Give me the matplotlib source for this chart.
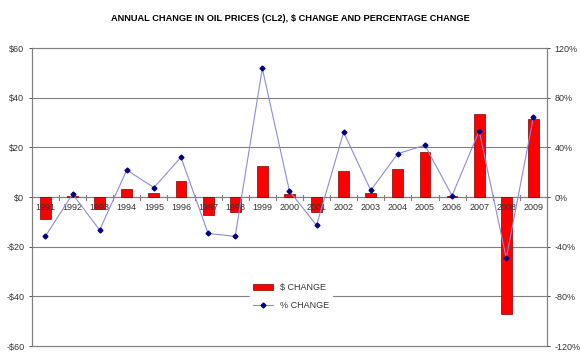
import numpy as np
import matplotlib.pyplot as plt

years = [str(y) for y in range(1991, 2010)]
dollar_change = [-8.7, 0.6, -5.0, 3.1, 1.5, 6.3, -7.4, -6.0, 12.6, 1.3,
                 -6.0, 10.4, 1.8, 11.4, 18.3, 0.5, 33.3, -47.3, 31.3]
pct_change = [-31.5, 2.4, -26.6, 21.8, 7.6, 32.0, -29.3, -31.7, 103.6, 4.9,
              -22.8, 52.2, 5.4, 35.0, 41.7, 1.1, 53.3, -49.2, 64.3]

plt.rcParams['font.family'] = 'Liberation Sans'
fig = plt.figure(figsize=(5.8, 3.56), dpi=100)
ax = fig.add_axes([0.055, 0.028, 0.888, 0.837])
ax2 = ax.twinx()

x = np.arange(len(years))

# gridlines
for v in [-40, -20, 20, 40]:
    ax.axhline(v, color='#808080', lw=0.8, zorder=0)
ax.axhline(0, color='#808080', lw=0.9, zorder=1)

bars = ax.bar(x, dollar_change, width=0.4, color='#ff0000', edgecolor='#800000',
              lw=0.5, zorder=2, label='$ CHANGE')

ax.set_xlim(-0.5, len(years) - 0.5)
ax.set_ylim(-60, 60)
ax.set_yticks(range(-60, 61, 20))
ax.set_yticklabels([f'${v}' if v >= 0 else f'-${-v}' for v in range(-60, 61, 20)])
ax.set_xticks([])
for i, yr in enumerate(years):
    ax.text(i, -2.2, yr, ha='center', va='top', fontsize=6.5, color='#333333', zorder=3)
for i in range(1, len(years)):
    ax.plot([i - 0.5, i - 0.5], [-1.0, 1.0], color='#808080', lw=0.8, zorder=1)

line, = ax2.plot(x, pct_change, color='#8c8cd9', lw=0.8, marker='D', ms=2.5,
                 mfc='#000080', mec='#000080', zorder=4, label='% CHANGE')
ax2.set_ylim(-120, 120)
ax2.set_yticks(range(-120, 121, 40))
ax2.set_yticklabels([f'{v}%' for v in range(-120, 121, 40)])

for a in (ax, ax2):
    a.tick_params(labelsize=6.5, colors='#333333', length=2, width=0.6)
    for s in a.spines.values():
        s.set_color('#808080')
        s.set_linewidth(0.8)

leg = ax2.legend([bars, line], ['$ CHANGE', '% CHANGE'], loc='upper left',
                 bbox_to_anchor=(0.415, 0.235), frameon=True, fontsize=6.5,
                 labelspacing=0.95, handlelength=2.2, borderpad=0.3)
leg.get_frame().set_edgecolor('white')
leg.get_frame().set_facecolor('white')
leg.get_frame().set_alpha(1)
for t in leg.get_texts():
    t.set_color('#333333')

fig.text(0.5, 0.948, 'ANNUAL CHANGE IN OIL PRICES (CL2), $ CHANGE AND PERCENTAGE CHANGE',
         ha='center', va='center', fontsize=6.7, fontweight='bold')

fig.savefig('out.png', dpi=100)
